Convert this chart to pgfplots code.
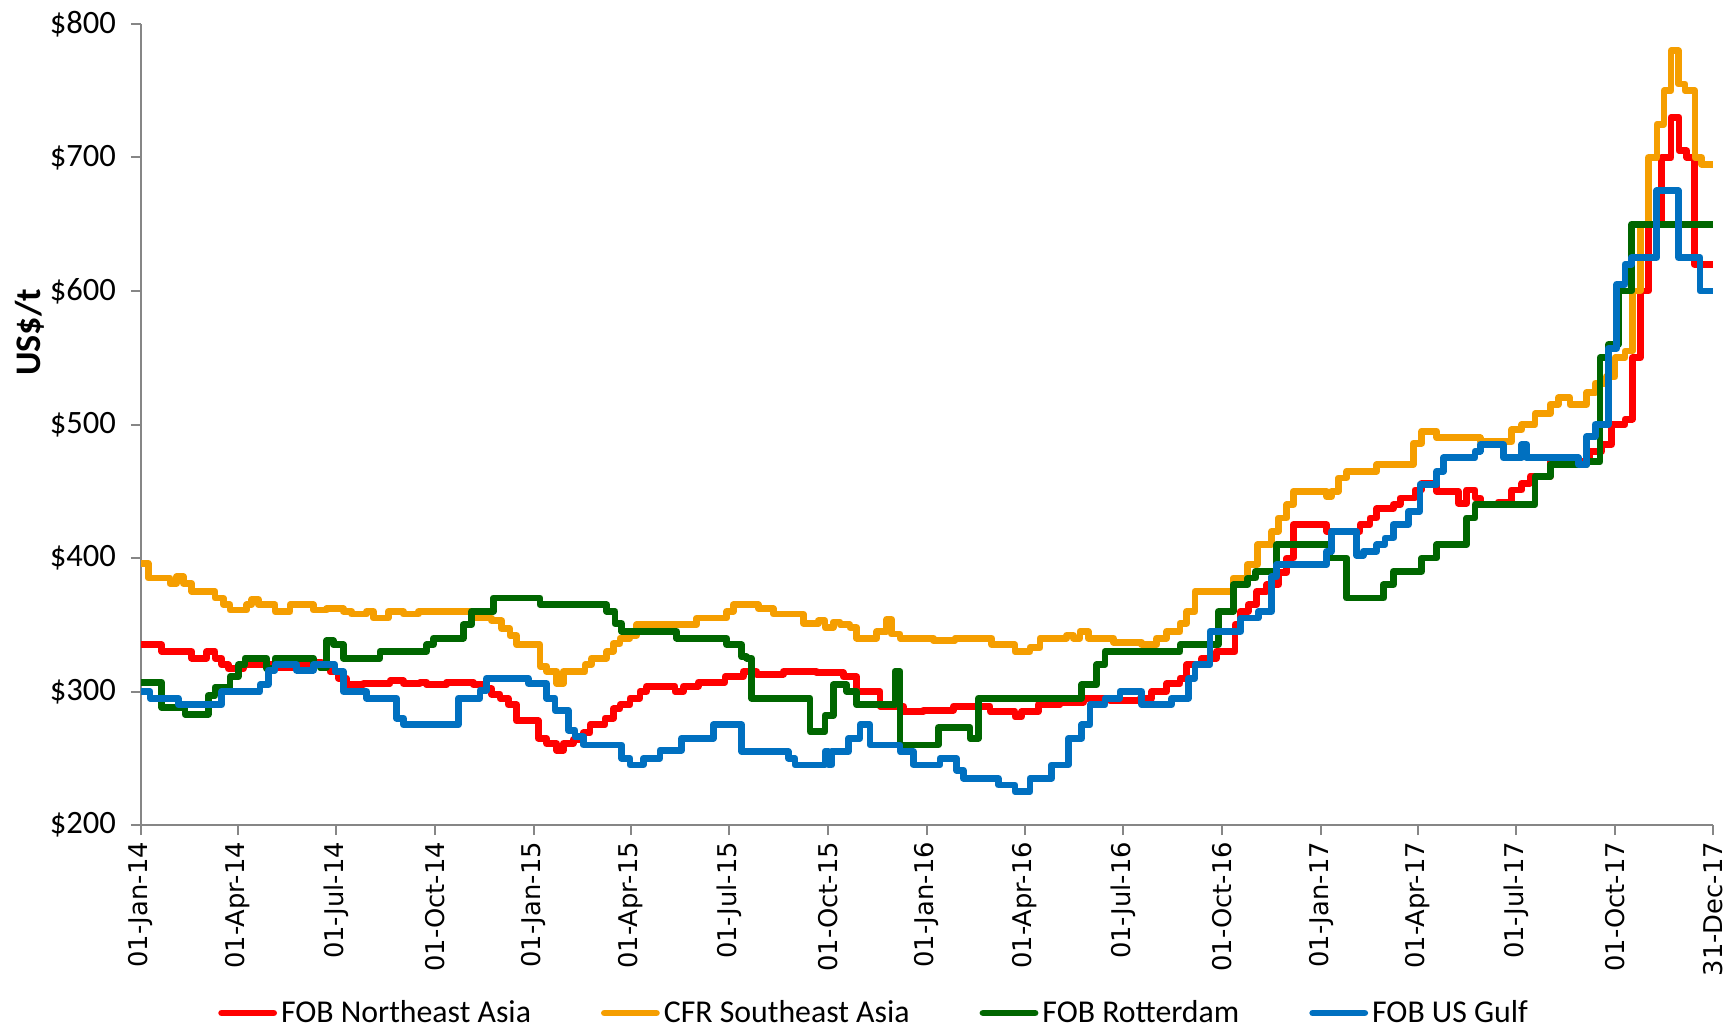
\documentclass[border=0pt]{standalone}
\usepackage{fontspec}
\setmainfont{Carlito}
\newfontfamily\verd{DejaVu Sans}
\usepackage{pgfplots}
\pgfplotsset{compat=1.18}
\definecolor{cred}{RGB}{255,0,0}
\definecolor{corange}{RGB}{245,158,0}
\definecolor{cgreen}{RGB}{0,102,0}
\definecolor{cblue}{RGB}{0,112,192}
\definecolor{axgray}{RGB}{134,134,134}
\begin{document}
\begin{tikzpicture}
\begin{axis}[
  scale only axis, width=786pt, height=400.5pt,
  xmin=0, xmax=1460, ymin=200, ymax=800,
  axis lines=left,
  axis line style={-, draw=axgray, line width=1pt},
  tick align=outside, major tick length=5pt,
  tick style={draw=axgray, line width=1pt},
  xtick={0,90,181,273,365,455,546,638,730,821,912,1004,1096,1186,1277,1369,1460},
  xticklabels={01-Jan-14,01-Apr-14,01-Jul-14,01-Oct-14,01-Jan-15,01-Apr-15,01-Jul-15,01-Oct-15,01-Jan-16,01-Apr-16,01-Jul-16,01-Oct-16,01-Jan-17,01-Apr-17,01-Jul-17,01-Oct-17,31-Dec-17},
  xticklabel style={font=\verd\fontsize{12.9}{15}\selectfont, rotate=90, anchor=east},
  ytick={200,300,400,500,600,700,800},
  yticklabels={\$200,\$300,\$400,\$500,\$600,\$700,\$800},
  yticklabel style={font=\fontsize{16.3}{19}\selectfont, xshift=-4pt},
  ylabel={US\$/t},
  ylabel style={font=\bfseries\fontsize{18}{21}\selectfont, at={(axis description cs:-0.0706,0.615)}, anchor=center},
  legend style={at={(axis description cs:0.467,-0.2347)}, anchor=center, draw=none,
    font=\fontsize{15.9}{18}\selectfont,
    /tikz/every even column/.append style={column sep=33pt}},
  legend columns=4,
  legend image code/.code={\draw[line width=3.4pt,line cap=round] (0pt,0pt) -- (26pt,0pt);},
  every axis plot/.append style={line width=3.4pt, line join=round, const plot mark left, no markers},
]
\addplot[cred] table {
0 335
19.2 330
47.1 325
61 330
68.7 325
74.9 320
81.1 317
95 320
122.9 318
144.6 320
160 322
167.8 318
175.5 315
183.3 310
191 305
206.5 306
231.3 308
243.7 306
259.1 307
265.3 305
283.9 307
308.6 305
317.9 302
325.7 298
333.4 295
341.1 290
348.9 278
369 265
376.7 261
386 256
392.2 261
401.5 264
410.8 269
417 275
430.9 280
438.7 287
444.9 290
454.1 295
463.4 300
469.6 304
495.9 300
503.7 304
517.6 307
542.4 311
559.5 315
571.8 313
596.6 315
627.6 314
652.3 311
664.7 300
686.4 289
708.1 285
726.6 286
754.5 289
788.6 285
811.7 281
817.9 285
833.4 290
853.5 292
875.2 295
900 293
927.8 295
938.7 300
952.6 306
965 310
971.2 320
985.1 325
999 330
1016.1 350
1020.8 360
1028.5 365
1036.2 375
1045.5 380
1056.4 389
1064.1 400
1070.3 425
1101.2 420
1132.2 425
1141.5 430
1147.7 437
1163.2 440
1169.4 445
1183.3 451
1189.5 456
1203.4 450
1223.5 441
1231.3 451
1239 445
1243.7 440
1260.7 442
1273.1 451
1282.4 456
1290.1 461
1308.7 472
1345.8 480
1356.7 485
1365.9 500
1378.3 504
1385 550
1392.3 600
1400 650
1412.4 700
1421 730
1428.5 705
1435.6 700
1442.5 620
1460 620
};
\addlegendentry{FOB Northeast Asia}
\addplot[corange] table {
0 396
6.8 385
26.9 381
33.1 386
39.3 381
47.1 375
68.7 370
76.5 365
82.7 361
98.1 365
102.8 369
109 365
124.5 360
138.4 365
160 361
172.5 362
187.9 360
195.7 358
209.6 360
215.8 355
229.7 360
243.7 358
257.6 360
310.2 355
325.7 353
335 347
342.7 342
348.9 335
370.6 319
376.7 315
386 306
392.2 315
412.4 320
418.5 325
432.5 330
438.7 336
444.9 340
454.1 342
460.3 350
516.1 355
544 360
550.2 365
573.4 362
587.3 358
615.2 351
629.1 353
635.3 348
643 352
649.2 350
658.5 348
664.7 340
683.3 345
692.6 354
697.2 343
705 340
735.9 338
756 340
790.1 335
811.7 330
825.7 333
835 340
859.7 342
865.9 340
872.1 345
879.8 340
903.1 337
929.4 335
943.3 340
952.6 345
965 351
971.2 360
978.9 375
1014.5 385
1027.5 395
1037 410
1050.1 420
1056.4 430
1064.1 440
1070.3 450
1101.2 446
1105.9 450
1112.1 460
1119.8 465
1147.7 470
1181.7 486
1189.5 495
1203.4 490
1243.7 487
1273.1 496
1282.4 500
1294.7 508
1308.7 515
1316.4 520
1327.2 515
1342.7 524
1350.5 531
1361 536
1369 550
1378.3 555
1385.5 600
1392.3 650
1400 700
1408 725
1414.5 750
1421 780
1428 755
1434 750
1443.3 700
1449.5 695
1460 695
};
\addlegendentry{CFR Southeast Asia}
\addplot[cgreen] table {
0 307
19.2 288
40.9 283
62.5 297
68.7 303
82.7 311
90.4 320
96.6 325
116.7 317
124.5 325
160 320
166.3 318
172.4 338
178.6 335
187.9 325
222 330
265.3 335
271.5 340
299.3 350
307.1 360
327.2 370
370.6 365
432.5 360
440.2 351
446.4 345
497.5 340
544 335
557.9 326
562.6 325
567.2 295
621.4 270
635.3 282
643 305
655.4 300
664.7 290
700.3 315
705 260
740.6 273
770 265
777.7 295
873.7 305
887.6 320
895.3 330
965 335
1000.6 360
1014.5 380
1028 385
1035 390
1054.8 410
1104.3 400
1119.8 370
1153.9 380
1163.2 390
1189.5 400
1203.4 410
1231.3 430
1239 440
1294.7 461
1308.7 470
1342.7 472
1355.1 550
1363 560
1372 600
1384.5 650
1460 650
};
\addlegendentry{FOB Rotterdam}
\addplot[cblue] table {
0 300
8.4 295
34.7 290
74.9 300
110.5 305
118.3 316
124.5 320
144.6 316
160 320
180.2 315
187.9 300
209.6 295
237.5 280
243.7 275
294.7 295
314.8 301
321 310
359.7 306
376.7 295
384.5 286
396.9 271
403.1 266
410.8 260
446.4 250
454.1 245
466.5 250
482 256
502.1 265
531.6 275
557.9 255
601.3 250
607.4 245
635.3 255
638.4 245
641.5 255
657 265
667.8 275
677.1 260
705 255
717.4 245
742.1 250
757.6 241
763.8 235
796.3 230
811.7 225
825.7 235
845.8 245
861.3 265
873.7 275
881.4 290
895.3 295
909.3 300
929.4 290
957.2 295
972.7 310
978.9 320
992.8 345
1021.5 355
1037.7 360
1050.1 386
1054.8 395
1101.2 405
1105.9 420
1129.1 402
1135.3 405
1147.7 410
1155.4 415
1163.2 425
1177.1 435
1187.9 455
1203.4 465
1209.6 475
1239 480
1243.7 485
1265.3 475
1282.4 485
1287 475
1335 470
1342.7 491
1350.5 500
1362.8 557
1370.6 605
1378.3 620
1384.5 625
1407.7 675
1427.9 625
1448 600
1460 600
};
\addlegendentry{FOB US Gulf}
\end{axis}
\pgfresetboundingbox
\path[use as bounding box] (-70.5pt,-101.5pt) rectangle (797.5pt,412.5pt);
\end{tikzpicture}
\end{document}
